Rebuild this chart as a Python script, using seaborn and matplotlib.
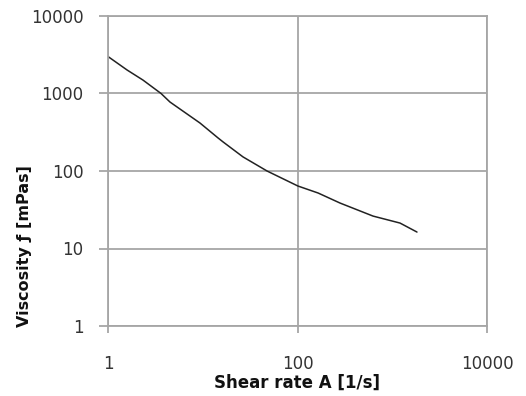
import matplotlib
matplotlib.use("Agg")
import matplotlib.pyplot as plt
import seaborn as sns
import pandas as pd

# Flow curve: shear rate [1/s] vs viscosity [mPas]
shear_rate = [1.0, 1.59, 2.34, 3.63, 4.51, 9.35, 14.5, 16.4, 26.6, 47.7, 101, 165, 281, 627, 1207, 1824]
viscosity = [3000, 2010, 1490, 1000, 776, 416, 267, 237, 152, 100, 64, 52, 38.6, 26.2, 21.3, 16.3]

x_ticks = [1, 100, 10000]
x_tick_labels = ["1", "100", "10000"]
y_ticks = [1, 10, 100, 1000, 10000]
y_tick_labels = ["1", "10", "100", "1000", "10000"]

sns.set_style("white")
plt.rcParams["font.family"] = ["DejaVu Sans"]

grid_color = "#a6a6a6"
text_color = "#333333"

fig = plt.figure(figsize=(5.26, 3.96), dpi=100)
ax = fig.add_axes([108 / 526, 1 - 326 / 396, (487 - 108) / 526, (326 - 16) / 396])

df = pd.DataFrame({"shear": shear_rate, "visc": viscosity})
sns.lineplot(data=df, x="shear", y="visc", ax=ax, color="#222222", linewidth=1.1, sort=False)

ax.set_xscale("log")
ax.set_yscale("log")
ax.set_xlim(1, 10000)
ax.set_ylim(1, 10000)

ax.set_xticks(x_ticks)
ax.set_xticklabels(x_tick_labels)
ax.set_yticks(y_ticks)
ax.set_yticklabels(y_tick_labels)
ax.minorticks_off()

ax.grid(True, which="major", color=grid_color, linewidth=1.3)
ax.set_axisbelow(True)
for s in ax.spines.values():
    s.set_color(grid_color)
    s.set_linewidth(1.3)

ax.tick_params(axis="x", which="major", direction="out", length=5, width=1.3,
               color=grid_color, pad=16, labelsize=12, labelcolor=text_color)
ax.tick_params(axis="y", which="major", direction="out", length=6.5, width=1.3,
               color=grid_color, pad=11, labelsize=12, labelcolor=text_color)
ax.tick_params(bottom=True, left=True)

ax.set_xlabel("Shear rate A [1/s]", fontsize=12, fontweight="bold", color="#111111", va="top")
ax.set_ylabel("Viscosity ƒ [mPas]", fontsize=11.5, fontweight="bold", color="#111111", va="center")
ax.xaxis.set_label_coords(0.5, -0.155)
ax.yaxis.set_label_coords(-0.219, 0.258)

fig.savefig("out.png", dpi=100)
